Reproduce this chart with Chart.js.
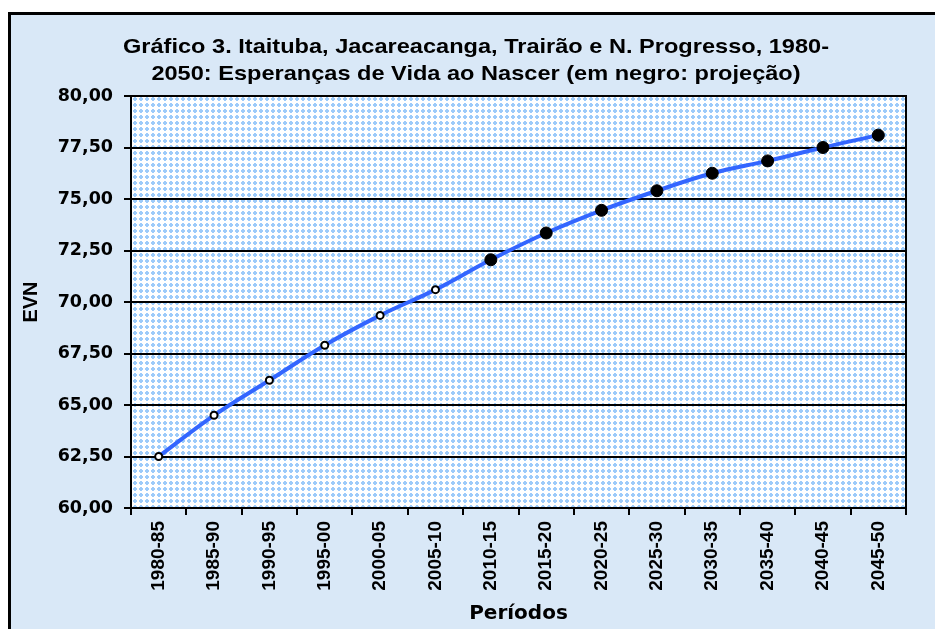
<!DOCTYPE html>
<html>
<head>
<meta charset="utf-8">
<script src="https://cdn.jsdelivr.net/npm/chart.js@4.4.1/dist/chart.umd.min.js"></script>
<style>
  html, body { margin: 0; padding: 0; background: #ffffff; width: 935px; height: 629px; overflow: hidden; }
  #frame { position: absolute; left: 8px; top: 12px; width: 960px; height: 660px;
           border-left: 3px solid #000; border-top: 3px solid #000;
           background: #d9e8f7; }
  #wrap { position: absolute; left: 0; top: 0; width: 935px; height: 629px; }
</style>
</head>
<body>
<div id="frame"></div>
<div id="wrap"><canvas id="c" width="935" height="629"></canvas></div>
<script>
// ---- data ----
const periods = ['1980-85','1985-90','1990-95','1995-00','2000-05','2005-10','2010-15',
                 '2015-20','2020-25','2025-30','2030-35','2035-40','2040-45','2045-50'];
const evn = [62.5, 64.5, 66.2, 67.9, 69.35, 70.6, 72.05, 73.35, 74.45, 75.4, 76.25, 76.85, 77.5, 78.1];
const pointKind = ['obs','obs','obs','obs','obs','obs','proj','proj','proj','proj','proj','proj','proj','proj'];
const yTickLabels = ['60,00','62,50','65,00','67,50','70,00','72,50','75,00','77,50','80,00'];
const titleLines = ['Gráfico 3. Itaituba, Jacareacanga, Trairão e N. Progresso, 1980-',
                    '2050: Esperanças de Vida ao Nascer (em negro: projeção)'];
const yTitle = 'EVN';
const xTitle = 'Períodos';

const FONT = "'Liberation Sans', Arial, sans-serif";
const WIDE = "'DejaVu Sans', 'Liberation Sans', sans-serif";

function makePattern(ctx) {
  const t = document.createElement('canvas');
  t.width = 6; t.height = 6;
  const g = t.getContext('2d');
  g.fillStyle = '#ffffff';
  g.fillRect(0, 0, 6, 6);
  g.fillStyle = '#9dcbfa';
  for (let y = 0; y < 6; y++) {
    for (let x = 0; x < 6; x++) {
      if (Math.abs(x - 2.5) + Math.abs(y - 2.5) <= 2.5) g.fillRect(x, y, 1, 1);
    }
  }
  return ctx.createPattern(t, 'repeat');
}

const bgPlugin = {
  id: 'plotBg',
  beforeDraw(chart) {
    const { ctx, chartArea: a } = chart;
    ctx.save();
    ctx.fillStyle = makePattern(ctx);
    ctx.fillRect(a.left, a.top, a.right - a.left, a.bottom - a.top);
    ctx.restore();
  },
  beforeDatasetsDraw(chart) {
    const { ctx, chartArea: a } = chart;
    ctx.save();
    ctx.strokeStyle = '#000';
    ctx.lineWidth = 2;
    ctx.strokeRect(a.left, a.top, a.right - a.left, a.bottom - a.top);
    ctx.restore();
  },
  afterDraw(chart) {
    const ctx = chart.ctx;
    ctx.save();
    ctx.fillStyle = '#000';
    ctx.font = 'bold 21px ' + FONT;
    ctx.textAlign = 'center';
    ctx.textBaseline = 'middle';
    const w = ctx.measureText(titleLines[0]).width;
    const sx = 706 / w;
    ctx.translate(476, 0);
    ctx.scale(sx, 1);
    ctx.fillText(titleLines[0], 0, 47);
    ctx.fillText(titleLines[1], 0, 74);
    ctx.restore();
  }
};

new Chart(document.getElementById('c'), {
  type: 'line',
  data: {
    labels: periods,
    datasets: [{
      data: evn,
      borderColor: '#3366ff',
      borderWidth: 4,
      tension: 0.4,
      fill: false,
      pointRadius: ctx => pointKind[ctx.dataIndex] === 'proj' ? 6 : 3.5,
      pointBackgroundColor: ctx => pointKind[ctx.dataIndex] === 'proj' ? '#000' : '#fff',
      pointBorderColor: '#000',
      pointBorderWidth: ctx => pointKind[ctx.dataIndex] === 'proj' ? 1 : 2,
      pointHoverRadius: 6
    }]
  },
  options: {
    responsive: false,
    animation: false,
    events: [],
    layout: { padding: { left: 17, right: 29, top: 96, bottom: 0 } },
    plugins: {
      legend: { display: false },
      title: { display: false },
      tooltip: { enabled: false }
    },
    scales: {
      x: {
        type: 'category',
        offset: true,
        grid: { offset: true, drawOnChartArea: false, drawTicks: true, tickLength: 7, color: '#000', lineWidth: 2 },
        border: { display: true, color: '#000', width: 2 },
        ticks: { color: '#000', font: { family: FONT, size: 19, weight: 'bold' },
                 minRotation: 90, maxRotation: 90, autoSkip: false, padding: 6 },
        title: { display: true, text: xTitle, color: '#000',
                 font: { family: WIDE, size: 20, weight: 'bold' }, padding: { top: 0, bottom: 3 } },
        afterFit(scale) { scale.height = 121; }
      },
      y: {
        min: 60, max: 80,
        ticks: { stepSize: 2.5, color: '#000', padding: 11,
                 font: { family: WIDE, size: 17.5, weight: 'bold' },
                 callback: (v, i) => yTickLabels[i] },
        grid: { color: '#000', lineWidth: 2, drawTicks: true, tickLength: 7 },
        border: { display: true, color: '#000', width: 2 },
        title: { display: true, text: yTitle, color: '#000',
                 font: { family: FONT, size: 20, weight: 'bold' }, padding: { top: 2, bottom: 0 } },
        afterFit(scale) { scale.width = 114; }
      }
    }
  },
  plugins: [bgPlugin]
});
</script>
</body>
</html>
